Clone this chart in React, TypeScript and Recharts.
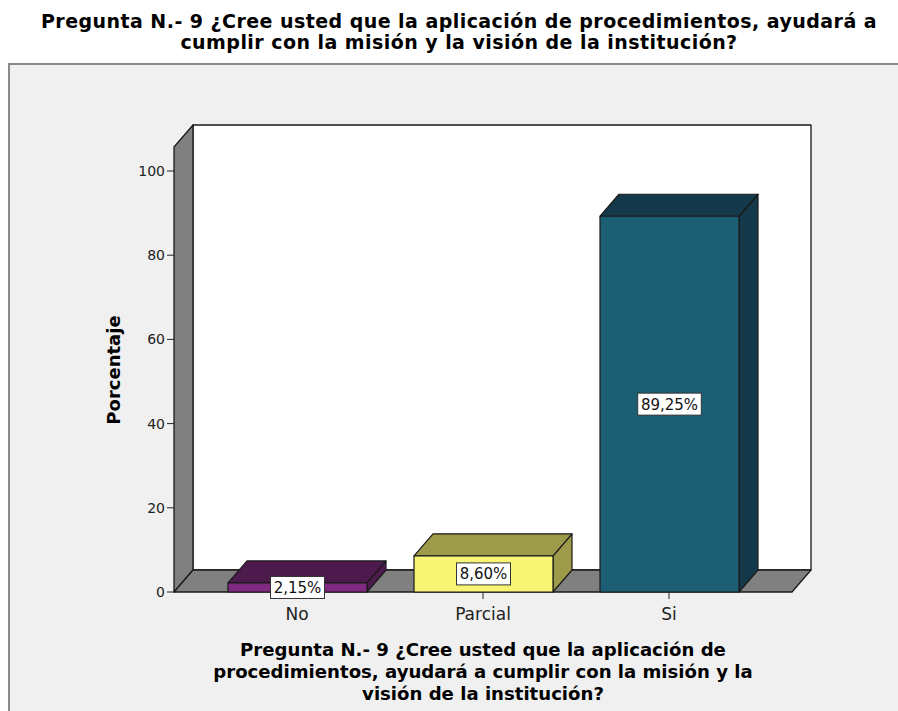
import { BarChart, Bar, XAxis, YAxis, ReferenceArea, LabelList } from 'recharts';

const categories = ['No', 'Parcial', 'Si'];
const percentages = [2.15, 8.6, 89.25];
const valueLabels = ['2,15%', '8,60%', '89,25%'];
const yTicks = [0, 20, 40, 60, 80, 100];

const frontColors = ['#7f2a80', '#f8f575', '#1c5e74'];
const shadeColors = ['#4c1a4d', '#9d9a4a', '#13394a'];

const titleLines = [
  'Pregunta N.- 9 ¿Cree usted que la aplicación de procedimientos, ayudará a',
  'cumplir con la misión y la visión de la institución?',
];
const xTitleLines = [
  'Pregunta N.- 9 ¿Cree usted que la aplicación de',
  'procedimientos, ayudará a cumplir con la misión y la',
  'visión de la institución?',
];

const data = categories.map((name, i) => ({
  name,
  value: percentages[i],
  label: valueLabels[i],
}));

const FONT = '"DejaVu Sans", Verdana, sans-serif';
const DX = 19;
const DY = 22;
const X_PAD = 30;
const Y_MAX = 105.7;

// 3D box for one bar: front face, top and right side
// eslint-disable-next-line @typescript-eslint/no-explicit-any
const BoxBar = (props: any) => {
  const { x, y, width, height, payload } = props;
  const i = Math.max(0, categories.indexOf(payload?.name));
  const front = frontColors[i];
  const shade = shadeColors[i];
  const top = `${x},${y} ${x + DX},${y - DY} ${x + width + DX},${y - DY} ${x + width},${y}`;
  const side = `${x + width},${y} ${x + width + DX},${y - DY} ${x + width + DX},${y + height - DY} ${x + width},${y + height}`;
  return (
    <g stroke="#1a1a1a" strokeWidth={1.2} strokeLinejoin="round">
      <polygon points={side} fill={shade} />
      <polygon points={top} fill={shade} />
      <rect x={x} y={y} width={width} height={height} fill={front} />
    </g>
  );
};

// left wall, floor and back wall drawn from the plot area
// eslint-disable-next-line @typescript-eslint/no-explicit-any
const Walls = (props: any) => {
  const x = props.x - X_PAD;
  const w = props.width + X_PAD * 2;
  const y = props.y;
  const h = props.height;
  const b = y + h;
  const r = x + w;
  return (
    <g stroke="#1a1a1a" strokeWidth={1.3} strokeLinejoin="round">
      <rect x={x + DX} y={y - DY} width={w} height={h} fill="#ffffff" />
      <polygon points={`${x},${y} ${x + DX},${y - DY} ${x + DX},${b - DY} ${x},${b}`} fill="#808080" />
      <polygon points={`${x},${b} ${x + DX},${b - DY} ${r + DX},${b - DY} ${r},${b}`} fill="#808080" />
    </g>
  );
};

// eslint-disable-next-line @typescript-eslint/no-explicit-any
const ValueBox = (props: any) => {
  const { x, y, width, height, value } = props;
  const cx = x + width / 2;
  const cy = y + height / 2;
  const bw = String(value).length * 9.6 + 6;
  return (
    <g>
      <rect x={cx - bw / 2} y={cy - 11} width={bw} height={22} fill="#ffffff" stroke="#333" strokeWidth={1} />
      <text x={cx} y={cy + 1} textAnchor="middle" dominantBaseline="middle" fontSize={15} fill="#111" fontFamily={FONT}>
        {value}
      </text>
    </g>
  );
};

export default function App() {
  return (
    <div style={{ position: 'absolute', left: 0, top: 0, width: 898, height: 711, background: '#fff', overflow: 'hidden', fontFamily: FONT }}>
      <div style={{ position: 'absolute', left: 8, top: 63, width: 900, height: 660, background: '#f0f0f0', borderLeft: '2px solid #8a8a8a', borderTop: '2px solid #8a8a8a' }} />
      {titleLines.map((t, i) => (
        <div key={t} style={{ position: 'absolute', left: 0, width: 918, top: 11 + i * 21, textAlign: 'center', fontWeight: 'bold', fontSize: 19, letterSpacing: 0.45, lineHeight: '21px', whiteSpace: 'nowrap', color: '#000' }}>
          {t}
        </div>
      ))}
      <div style={{ position: 'absolute', left: 0, top: 0 }}>
        <BarChart width={898} height={711} data={data} margin={{ top: 147, right: 106, left: 94, bottom: 89 }} barSize={139}>
          <ReferenceArea y1={0} y2={Y_MAX} shape={Walls} ifOverflow="visible" />
          <XAxis
            dataKey="name"
            height={30}
            padding={{ left: X_PAD, right: X_PAD }}
            axisLine={false}
            tickLine={{ stroke: '#222' }}
            tickSize={7}
            tickMargin={9}
            tick={{ fontSize: 17, fill: '#222', fontFamily: FONT }}
          />
          <YAxis
            width={80}
            domain={[0, Y_MAX]}
            ticks={yTicks}
            axisLine={false}
            tickLine={{ stroke: '#222' }}
            tickSize={7}
            tickMargin={2}
            tick={{ fontSize: 14, fill: '#222', fontFamily: FONT }}
          />
          <Bar dataKey="value" shape={BoxBar} isAnimationActive={false}>
            <LabelList dataKey="label" content={ValueBox} />
          </Bar>
        </BarChart>
      </div>
      <div style={{ position: 'absolute', left: 113, top: 370, transform: 'translate(-50%, -50%) rotate(-90deg)', fontWeight: 'bold', fontSize: 18, whiteSpace: 'nowrap' }}>
        Porcentaje
      </div>
      {xTitleLines.map((t, i) => (
        <div key={t} style={{ position: 'absolute', left: 0, width: 966, top: 639 + i * 22, textAlign: 'center', fontWeight: 'bold', fontSize: 18.1, lineHeight: '22px', whiteSpace: 'nowrap', color: '#000' }}>
          {t}
        </div>
      ))}
    </div>
  );
}
